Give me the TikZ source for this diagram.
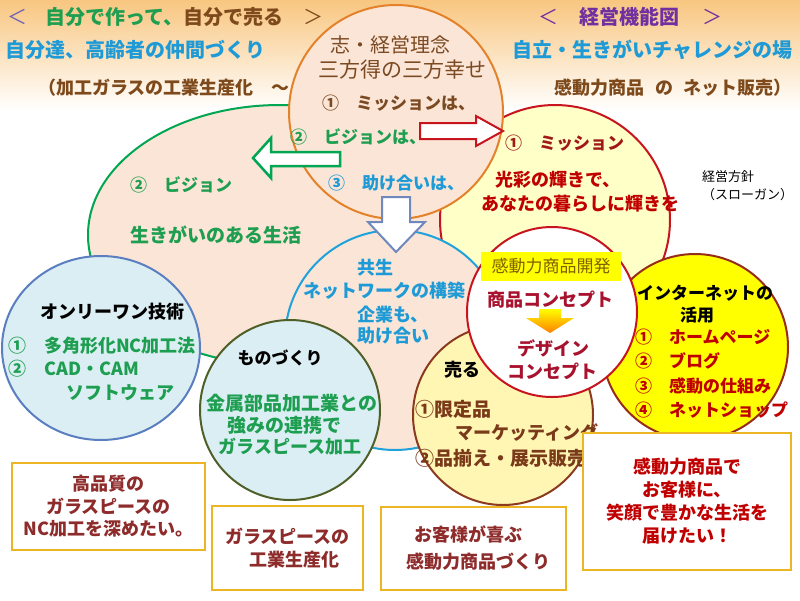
\documentclass[tikz,border=0pt]{standalone}
\usepackage{fontspec}
\newfontfamily\jp{Noto Sans CJK JP}
\usetikzlibrary{shapes.geometric}
\definecolor{peach}{HTML}{FBE5D6}
\definecolor{paleY}{HTML}{FFFFC8}
\definecolor{paleYb}{HTML}{FFF6B4}
\definecolor{lblue}{HTML}{DAEEF3}
\definecolor{yellowB}{HTML}{FFFF00}
\definecolor{cGreen}{HTML}{00A651}
\definecolor{cOrange}{HTML}{E4822A}
\definecolor{cRed}{HTML}{C8141E}
\definecolor{cCyan}{HTML}{1FA2DB}
\definecolor{cBlue}{HTML}{5A7EC0}
\definecolor{cOlive}{HTML}{4F5F28}
\definecolor{cBrown}{HTML}{8B3A20}
\definecolor{cIBrown}{HTML}{962D1A}
\definecolor{cGold}{HTML}{EBB524}
\definecolor{cArrowB}{HTML}{6F88BE}
\definecolor{grnT}{HTML}{1E9E50}
\definecolor{brnT}{HTML}{7E4A1C}
\definecolor{brnO}{HTML}{7B4A22}
\definecolor{cyanT}{HTML}{1E9AD6}
\definecolor{redT}{HTML}{C00000}
\definecolor{redD}{HTML}{A01818}
\definecolor{crim}{HTML}{A8122E}
\definecolor{brnU}{HTML}{7A3A1A}
\definecolor{boxT}{HTML}{8E2B2B}
\definecolor{olvT}{HTML}{7F6000}
\definecolor{purL}{HTML}{6B62B8}
\definecolor{purR}{HTML}{7030A0}
\definecolor{hdrTop}{HTML}{F8C680}
\definecolor{hdrMid}{HTML}{FDEBB8}
\begin{document}
\begin{tikzpicture}[x=1pt,y=-1pt,
  jb/.style={inner sep=0pt, font=\jp\bfseries\fontsize{#1}{#1}\selectfont},
  jr/.style={inner sep=0pt, font=\jp\fontsize{#1}{#1}\selectfont},
  circ/.style={circle, inner sep=0pt, line width=2pt},
  ell/.style={ellipse, inner sep=0pt, line width=2pt},
  barrow/.style={fill=white, line width=2pt, line join=miter},
  tbox/.style={draw=cGold, line width=2.5pt, fill=white, inner sep=0pt, align=center}]
\useasboundingbox (0,0) rectangle (800,600);
\fill[white] (0,0) rectangle (800,600);
\shade[top color=hdrTop, middle color=hdrMid, bottom color=white] (0,0) rectangle (800,110);

% header
\node[jr=20, text=purL] (lt1) at (17,17) {＜};
\node[jb=20, anchor=west] (h1) at (45,17) {\textcolor{grnT}{自分で作って、}\textcolor{brnT}{自分で売る}};
\node[jr=20, text=brnT] (gt1) at (313,17) {＞};
\node[jr=20, text=purR] (lt2) at (548,17) {＜};
\node[jb=20, text=purR] (h2) at (629,17) {経営機能図};
\node[jr=20, text=purR] (gt2) at (712,17) {＞};
\node[jb=20, text=cyanT, anchor=west] (h3) at (5,50) {自分達、高齢者の仲間づくり};
\node[jb=20, text=cyanT, anchor=west] (h4) at (512,50) {自立・生きがいチャレンジの場};
\node[jb=18, text=brnT, anchor=west] (h5) at (38,88) {（加工ガラスの工業生産化　～};
\node[jb=18, text=brnT, anchor=east] (h6) at (792,88) {感動力商品\hspace{0.6em}の\hspace{0.6em}ネット販売）};

% circles
\node[ell, draw=cGreen, fill=peach, minimum width=384pt, minimum height=260pt] (vision) at (280,235) {};
\node[circ, draw=cRed, fill=paleY, minimum size=230pt] (mission) at (555,220) {};
\node[circ, draw=cOrange, fill=peach, minimum size=214pt] (rinen) at (396,112) {};
\node[circ, draw=cCyan, fill=peach, minimum size=220pt] (kyosei) at (395,340) {};
\node[ell, draw=cBlue, fill=lblue, minimum width=198pt, minimum height=184pt] (only) at (101,348) {};
\node[circ, draw=cOlive, fill=lblue, minimum size=180pt] (mono) at (290,410) {};
\node[circ, draw=cBrown, fill=paleYb, minimum size=180pt] (uru) at (503,415) {};
\node[circ, draw=cIBrown, fill=yellowB, minimum size=186pt] (inet) at (695,347) {};
\node[circ, draw=cRed, fill=white, minimum size=170pt] (kando) at (552,312) {};

% block arrows
\draw[barrow, draw=cRed] (420,123) -- (476,123) -- (476,116) -- (503,131) -- (476,146) -- (476,139) -- (420,139) -- cycle;
\draw[barrow, draw=cGreen, line width=2.5pt] (340,152) -- (271,152) -- (271,138) -- (253,158) -- (271,178) -- (271,166) -- (340,166) -- cycle;
\draw[barrow, draw=cArrowB] (382,197) -- (410,197) -- (410,222) -- (425,222) -- (396,252) -- (368,222) -- (382,222) -- cycle;

% orange circle texts
\node[jr=20, text=brnO] (r1) at (390,45) {志・経営理念};
\node[jr=21, text=brnO] (r2) at (402,70) {三方得の三方幸せ};
\node[jb=17, text=brnO, anchor=west] (r3) at (322,103) {①　ミッションは、};
\node[jb=17, text=grnT, anchor=west] (r4) at (290,137) {②　ビジョンは、};
\node[jb=17, text=cyanT, anchor=west] (r5) at (328,183) {③　助け合いは、};

% vision
\node[jb=17, text=grnT, anchor=west] (v1) at (130,185) {②　ビジョン};
\node[jb=19, text=grnT, anchor=west] (v2) at (130,235) {生きがいのある生活};

% mission
\node[jb=17, text=redD, anchor=west] (m1) at (505,143) {①　ミッション};
\node[jb=18, text=redT, anchor=west] (m2) at (495,180) {光彩の輝きで、};
\node[jb=18, text=redT, anchor=west] (m3) at (481,204) {あなたの暮らしに輝きを};

% slogan
\node[inner sep=0pt, anchor=north west, align=left, font=\jp\fontsize{13}{18}\selectfont] (slogan) at (702,170) {経営方針\\（スローガン）};

% kyosei
\node[jb=18, text=cyanT, anchor=west] (k1) at (357,268) {共生};
\node[jb=18, text=cyanT] (k2) at (384,291) {ネットワークの構築};
\node[jb=18, text=cyanT, anchor=west] (k3) at (357,315) {企業も、};
\node[jb=18, text=cyanT, anchor=west] (k4) at (357,336) {助け合い};

% kando
\node[fill=yellowB, inner sep=0pt, minimum width=140pt, minimum height=29pt, text=olvT, font=\jp\fontsize{17}{17}\selectfont] (klabel) at (551,266) {感動力商品開発};
\node[jb=18, text=crim] (c1) at (550,300) {商品コンセプト};
\shade[top color=yellowB, bottom color=orange] (539,309) -- (561,309) -- (561,318) -- (574,318) -- (550,333) -- (526,318) -- (539,318) -- cycle;
\node[jb=18, text=crim] (c2) at (553,348) {デザイン};
\node[jb=18, text=crim] (c3) at (552,371) {コンセプト};

% internet
\node[jb=17] (i1) at (705,293) {インターネットの};
\node[jb=17] (i2) at (697,315) {活用};
\node[jb=17, text=redT, anchor=west] (i3) at (635,337) {①　ホームページ};
\node[jb=17, text=redT, anchor=west] (i4) at (635,361) {②　ブログ};
\node[jb=17, text=redT, anchor=west] (i5) at (635,386) {③　感動の仕組み};
\node[jb=17, text=redT, anchor=west] (i6) at (635,410) {④　ネットショップ};

% uru
\node[jb=18] (u1) at (462,370) {売る};
\node[jb=19, text=brnU, anchor=west] (u2) at (415,409) {①限定品};
\node[jb=18, text=brnU, anchor=west] (u3) at (455,433) {マーケッティング};
\node[jb=19, text=brnU, anchor=west] (u4) at (415,458) {②品揃え・展示販売};

% mono
\node[jb=17] (mo1) at (280,358) {ものづくり};
\node[jb=19, text=grnT] (mo2) at (292,403) {金属部品加工業との};
\node[jb=19, text=grnT] (mo3) at (284,425) {強みの連携で};
\node[jb=18, text=grnT] (mo4) at (290,447) {ガラスピース加工};

% only
\node[jb=18] (o1) at (112,312) {オンリーワン技術};
\node[jb=18, text=grnT, anchor=west] (o2) at (8,346) {①　多角形化NC加工法};
\node[jb=18, text=grnT, anchor=west] (o3) at (8,369) {②　CAD・CAM};
\node[jb=18, text=grnT] (o4) at (120,393) {ソフトウェア};

% boxes
\node[tbox, minimum width=193pt, minimum height=87pt, text=boxT, font=\jp\bfseries\fontsize{18}{22.5}\selectfont] (b1) at (108.5,506.5) {高品質の\\ガラスピースの\\NC加工を深めたい。};
\node[tbox, minimum width=151pt, minimum height=84pt, text=boxT, font=\jp\bfseries\fontsize{18}{23}\selectfont] (b2) at (287.5,548) {ガラスピースの\\\hspace*{14pt}工業生産化};
\node[tbox, minimum width=185pt, minimum height=83pt, text=boxT, font=\jp\bfseries\fontsize{18}{27}\selectfont] (b3) at (473.5,548.5) {\hspace*{-10pt}お客様が喜ぶ\\\hspace*{10pt}感動力商品づくり};
\node[tbox, minimum width=208pt, minimum height=137pt, text=redT, font=\jp\bfseries\fontsize{18}{23}\selectfont] (b4) at (687,501.5) {感動力商品で\\お客様に、\\笑顔で豊かな生活を\\届けたい！};
\end{tikzpicture}
\end{document}
